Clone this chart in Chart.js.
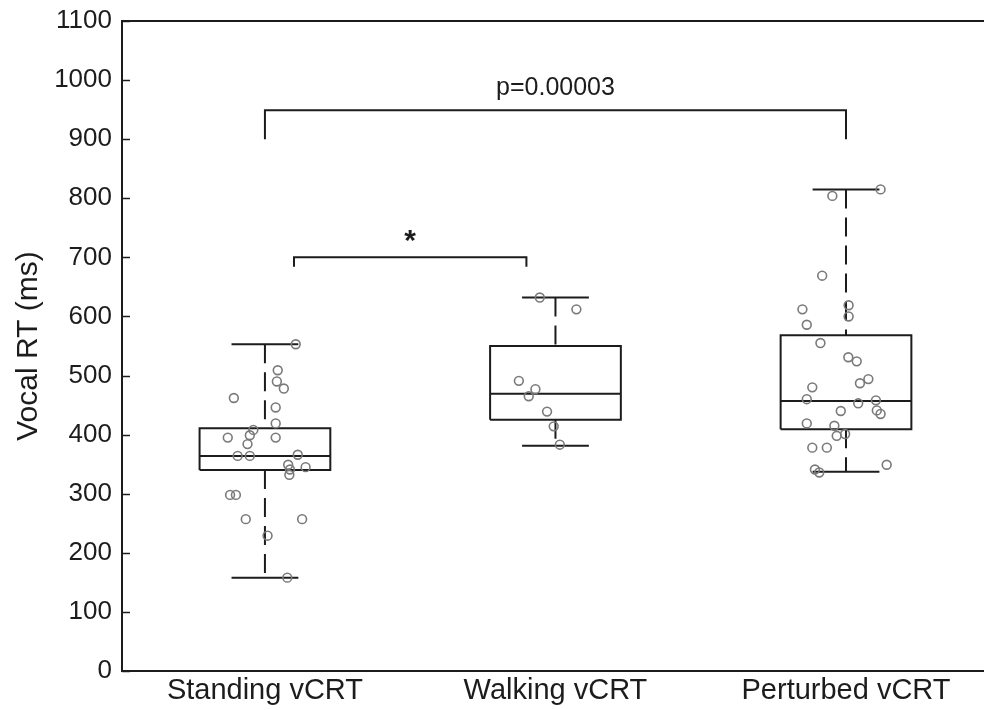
<!DOCTYPE html>
<html>
<head>
<meta charset="utf-8">
<script src="https://cdn.jsdelivr.net/npm/chart.js@4.4.1/dist/chart.umd.min.js"></script>
<style>
  html, body { margin: 0; padding: 0; background: #fff; overflow: hidden; }
  #wrap { width: 984px; height: 710px; overflow: hidden; }
</style>
</head>
<body>
<div id="wrap"><canvas id="rtChart" width="990" height="710"></canvas></div>
<script>
// ---- data ----
const groupLabels = ["Standing vCRT", "Walking vCRT", "Perturbed vCRT"];
const groupPos = [1, 2, 3];

// box stats: [min, q1, median, q3, max]
const standingBox = [158, 340, 364, 411, 553];
const walkingBox = [381, 425, 469, 550, 632];
const perturbedBox = [337, 409, 457, 568, 815];

// individual subjects (x jitter around the group position, RT in ms)
const standingJitter = [0.106, 0.044, 0.041, 0.065, -0.107, 0.037, 0.037, -0.040, -0.052, -0.128, 0.037, -0.060, -0.094, -0.052, 0.113, 0.080, 0.140, 0.086, 0.084, -0.120, -0.100, -0.066, 0.128, 0.009, 0.077];
const standingRT = [553, 509, 490, 478, 462, 446, 419, 408, 399, 395, 395, 384, 364, 364, 366, 349, 345, 341, 332, 298, 298, 257, 257, 229, 158];

const walkingJitter = [-0.054, 0.072, -0.126, -0.069, -0.092, -0.029, -0.006, 0.015];
const walkingRT = [632, 612, 491, 477, 465, 439, 414, 383];

const perturbedJitter = [0.119, -0.047, -0.082, 0.009, -0.150, 0.009, -0.135, -0.088, 0.008, 0.037, 0.077, 0.048, -0.116, -0.135, 0.042, 0.103, 0.106, 0.119, -0.018, -0.135, -0.040, -0.003, -0.032, -0.116, -0.066, 0.140, -0.107, -0.092];
const perturbedRT = [815, 804, 669, 619, 612, 600, 586, 555, 531, 524, 494, 487, 480, 460, 453, 458, 441, 435, 440, 419, 415, 401, 398, 378, 378, 349, 341, 336];

// significance brackets
const pBracketX = [1, 3];
const pBracketY = [900, 949];
const pLabel = "p=0.00003";
const pLabelY = 986;
const starBracketX = [1.1, 1.9];
const starBracketY = [684, 700];
const starLabel = "*";
const starLabelY = 726;

const yTicks = [0, 100, 200, 300, 400, 500, 600, 700, 800, 900, 1000, 1100];

// ---- styling ----
const FONT = "'Liberation Sans', Arial, Helvetica, sans-serif";
const INK = "#1c1c1c";
const DOT = "#7a7a7a";
const BOX_HALF = 0.225;
const CAP_HALF = 0.115;

const boxes = [standingBox, walkingBox, perturbedBox];
const jitters = [standingJitter, walkingJitter, perturbedJitter];
const rts = [standingRT, walkingRT, perturbedRT];

// solid parts of a box: outline, median, caps (gaps with null)
function boxOutline(pos, s) {
    const [mn, q1, med, q3, mx] = s;
    const gap = { x: pos, y: null };
    return [
        { x: pos - BOX_HALF, y: q1 }, { x: pos - BOX_HALF, y: q3 },
        { x: pos + BOX_HALF, y: q3 }, { x: pos + BOX_HALF, y: q1 },
        { x: pos - BOX_HALF, y: q1 }, gap,
        { x: pos - BOX_HALF, y: med }, { x: pos + BOX_HALF, y: med }, gap,
        { x: pos - CAP_HALF, y: mx }, { x: pos + CAP_HALF, y: mx }, gap,
        { x: pos - CAP_HALF, y: mn }, { x: pos + CAP_HALF, y: mn }
    ];
}

// dashed whiskers, drawn top-down like the original
function boxWhiskers(pos, s) {
    const [mn, q1, , q3, mx] = s;
    return [
        { x: pos, y: mx }, { x: pos, y: q3 }, { x: pos, y: null },
        { x: pos, y: q1 }, { x: pos, y: mn }
    ];
}

function bracket(xs, ys) {
    return [
        { x: xs[0], y: ys[0] }, { x: xs[0], y: ys[1] },
        { x: xs[1], y: ys[1] }, { x: xs[1], y: ys[0] }
    ];
}

const datasets = [];

// subject dots
groupPos.forEach((pos, i) => {
    datasets.push({
        label: groupLabels[i],
        data: rts[i].map((v, k) => ({ x: pos + jitters[i][k], y: v })),
        showLine: false,
        pointRadius: 4.4,
        pointBorderWidth: 1.6,
        pointBorderColor: DOT,
        pointBackgroundColor: "rgba(0,0,0,0)",
        order: 1
    });
});

// boxes
groupPos.forEach((pos, i) => {
    datasets.push({
        data: boxOutline(pos, boxes[i]),
        showLine: true, spanGaps: false,
        borderColor: INK, borderWidth: 2,
        pointRadius: 0, order: 2
    });
    datasets.push({
        data: boxWhiskers(pos, boxes[i]),
        showLine: true, spanGaps: false,
        borderColor: INK, borderWidth: 2, borderDash: [19, 9],
        pointRadius: 0, order: 2
    });
});

// brackets
[bracket(pBracketX, pBracketY), bracket(starBracketX, starBracketY)].forEach(d => {
    datasets.push({
        data: d, showLine: true,
        borderColor: INK, borderWidth: 2,
        pointRadius: 0, order: 2
    });
});

// labels, inward y ticks and top frame line
const extrasPlugin = {
    id: "extras",
    afterDraw(chart) {
        const { ctx, chartArea, scales } = chart;
        const x = scales.x, y = scales.y;
        ctx.save();
        ctx.strokeStyle = INK;
        ctx.lineWidth = 2;
        ctx.beginPath();
        ctx.moveTo(chartArea.left, chartArea.top);
        ctx.lineTo(chart.width, chartArea.top);
        ctx.stroke();

        ctx.lineWidth = 1.5;
        yTicks.forEach(v => {
            const py = Math.round(y.getPixelForValue(v)) + 0.5;
            ctx.beginPath();
            ctx.moveTo(chartArea.left, py);
            ctx.lineTo(chartArea.left + 8, py);
            ctx.stroke();
        });

        ctx.fillStyle = INK;
        ctx.textAlign = "center";
        ctx.textBaseline = "middle";
        ctx.font = "25px " + FONT;
        ctx.fillText(pLabel, x.getPixelForValue((pBracketX[0] + pBracketX[1]) / 2), y.getPixelForValue(pLabelY));
        ctx.font = "bold 30px " + FONT;
        ctx.fillText(starLabel, x.getPixelForValue((starBracketX[0] + starBracketX[1]) / 2), y.getPixelForValue(starLabelY));
        ctx.restore();
    }
};

new Chart(document.getElementById("rtChart"), {
    type: "scatter",
    data: { datasets: datasets },
    options: {
        responsive: false,
        animation: false,
        events: [],
        layout: { padding: { left: 0, top: 21, right: 0, bottom: 0 } },
        plugins: {
            legend: { display: false },
            tooltip: { enabled: false }
        },
        scales: {
            x: {
                type: "linear",
                min: 0.508,
                max: 3.475,
                grid: { display: false, drawTicks: false },
                border: { display: true, color: INK, width: 2 },
                afterBuildTicks: (scale) => { scale.ticks = groupPos.map(v => ({ value: v })); },
                afterFit: (scale) => {
                    scale.height = 39;
                    scale.paddingLeft = 0;
                    scale.paddingRight = 0;
                },
                ticks: {
                    autoSkip: false,
                    maxRotation: 0,
                    padding: 3,
                    color: INK,
                    font: { family: FONT, size: 29 },
                    callback: (v, idx) => groupLabels[idx]
                }
            },
            y: {
                min: 0,
                max: 1100,
                grid: { display: false, drawTicks: false },
                border: { display: true, color: INK, width: 2 },
                afterBuildTicks: (scale) => { scale.ticks = yTicks.map(v => ({ value: v })); },
                afterFit: (scale) => {
                    scale.width = 122;
                    scale.paddingTop = 0;
                    scale.paddingBottom = 0;
                },
                ticks: {
                    padding: 10,
                    color: INK,
                    font: { family: FONT, size: 26 },
                    callback: (v) => String(v)
                },
                title: {
                    display: true,
                    text: "Vocal RT (ms)",
                    color: INK,
                    padding: { top: 14, bottom: 0 },
                    font: { family: FONT, size: 30, lineHeight: 1 }
                }
            }
        }
    },
    plugins: [extrasPlugin]
});
</script>
</body>
</html>
